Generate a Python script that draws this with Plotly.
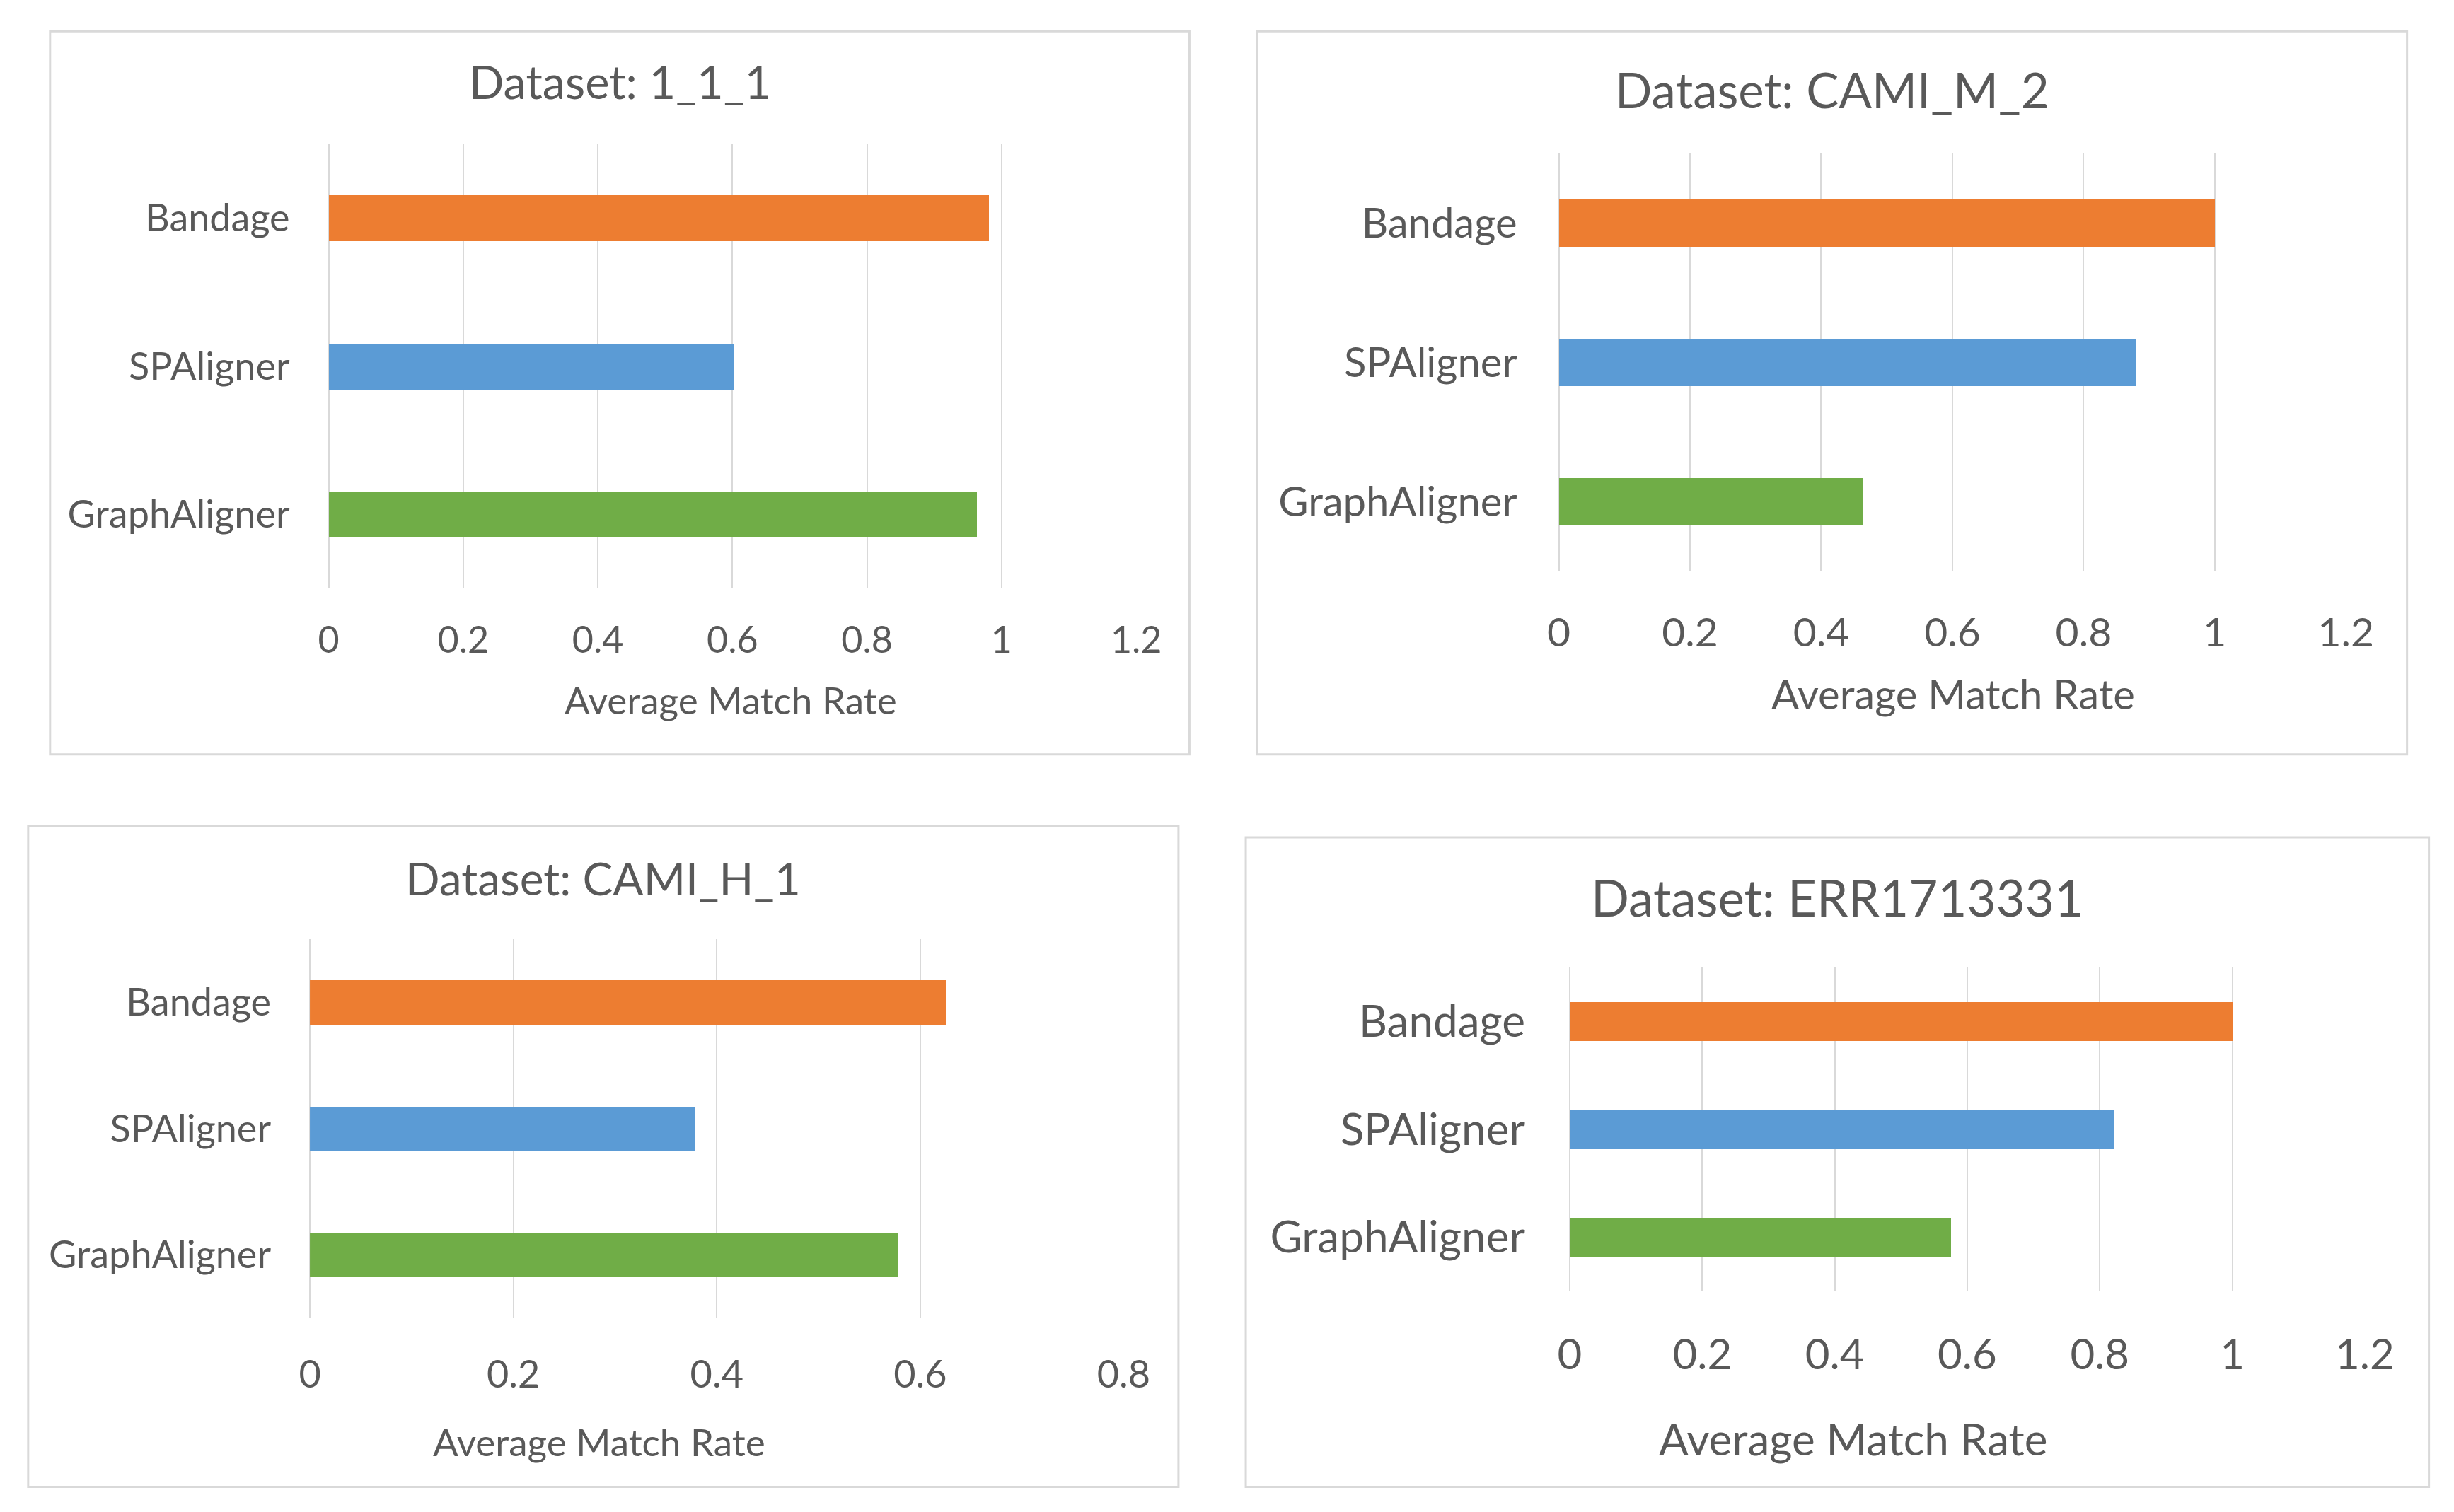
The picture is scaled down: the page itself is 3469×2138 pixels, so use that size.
import plotly.graph_objects as go

# data
datasets = ["1_1_1", "CAMI_M_2", "CAMI_H_1", "ERR1713331"]
methods = ["Bandage", "SPAligner", "GraphAligner"]
bandage_rate = [0.981, 1.0, 0.625, 1.0]
spaligner_rate = [0.602, 0.88, 0.378, 0.822]
graphaligner_rate = [0.963, 0.463, 0.578, 0.576]
x_max = [1.2, 1.2, 0.8, 1.2]
x_step = [0.2, 0.2, 0.2, 0.2]
x_title = "Average Match Rate"

method_colors = {"Bandage": "#ED7D31", "SPAligner": "#5B9BD5", "GraphAligner": "#70AD47"}

W, H = 3469, 2138
REF_W, REF_H = 1568, 966  # layout measured on a scaled-down copy
FONT = "Lato"
TEXT = "#595959"
GRID = "#D9D9D9"

# per panel layout (in reference coords): box, plot x/y, title y, axis title pos
panels = [
    dict(box=(32, 20, 760, 482), px=(210, 726), py=(92, 376), ty=52, at=(467, 447),
         fs_title=65, fs_tick=52, fs_cat=54, fs_axis=53, bw=0.31, tso=38),
    dict(box=(803, 20, 1538, 482), px=(996, 1499), py=(98, 365), ty=57, at=(1248, 443),
         fs_title=69, fs_tick=57, fs_cat=58, fs_axis=58, bw=0.34, tso=48),
    dict(box=(18, 528, 753, 950), px=(198, 718), py=(600, 842), ty=561, at=(383, 921),
         fs_title=64, fs_tick=54, fs_cat=54, fs_axis=53, bw=0.35, tso=43),
    dict(box=(796, 535, 1552, 950), px=(1003, 1511), py=(618, 825), ty=573, at=(1184, 919),
         fs_title=71, fs_tick=60, fs_cat=62, fs_axis=62, bw=0.36, tso=49),
]


def fx(x):
    return x / REF_W


def fy(y):
    return 1 - y / REF_H


fig = go.Figure()
shapes = []
annotations = []

for i, (name, p) in enumerate(zip(datasets, panels)):
    n = "" if i == 0 else str(i + 1)
    vals = {"Bandage": bandage_rate[i], "SPAligner": spaligner_rate[i],
            "GraphAligner": graphaligner_rate[i]}
    for m in methods:
        fig.add_trace(go.Bar(
            x=[vals[m]], y=[m], orientation="h",
            marker=dict(color=method_colors[m], line=dict(width=0)),
            width=p["bw"], xaxis="x" + n, yaxis="y" + n, showlegend=False,
        ))

    fig.update_layout(**{
        "xaxis" + n: dict(
            domain=[fx(p["px"][0]), fx(p["px"][1])], anchor="y" + n,
            range=[0, x_max[i]], dtick=x_step[i], tick0=0,
            showgrid=True, gridcolor=GRID, gridwidth=2,
            zeroline=True, zerolinecolor=GRID, zerolinewidth=2,
            showline=False, ticks="", ticklabelstandoff=p["tso"],
            tickfont=dict(family=FONT, size=p["fs_tick"], color=TEXT),
            automargin=False, fixedrange=True,
        ),
        "yaxis" + n: dict(
            domain=[fy(p["py"][1]), fy(p["py"][0])], anchor="x" + n,
            categoryorder="array", categoryarray=methods[::-1],
            showgrid=False, showline=False, ticks="",
            ticklabelstandoff=int(p["fs_cat"] * 1.0),
            tickfont=dict(family=FONT, size=p["fs_cat"], color=TEXT),
            automargin=False, fixedrange=True,
        ),
    })

    x0, y0, x1, y1 = p["box"]
    shapes.append(dict(type="rect", xref="paper", yref="paper",
                       x0=fx(x0), x1=fx(x1), y0=fy(y1), y1=fy(y0),
                       line=dict(color=GRID, width=3), layer="below"))
    annotations.append(dict(
        text="Dataset: " + name, xref="paper", yref="paper",
        x=(fx(x0) + fx(x1)) / 2, y=fy(p["ty"]), xanchor="center", yanchor="middle",
        showarrow=False, font=dict(family=FONT, size=p["fs_title"], color=TEXT),
    ))
    # axis title placed freely, as in the original sheet
    annotations.append(dict(
        text=x_title, xref="paper", yref="paper",
        x=fx(p["at"][0]), y=fy(p["at"][1]), xanchor="center", yanchor="middle",
        showarrow=False, font=dict(family=FONT, size=p["fs_axis"], color=TEXT),
    ))

fig.update_layout(
    width=W, height=H,
    margin=dict(l=0, r=0, t=0, b=0, autoexpand=False),
    paper_bgcolor="white", plot_bgcolor="white",
    shapes=shapes, annotations=annotations,
    bargap=0.0, showlegend=False,
)

fig.write_html("out.html", config={"displayModeBar": False},
               post_script="document.body.style.margin = '0';")
